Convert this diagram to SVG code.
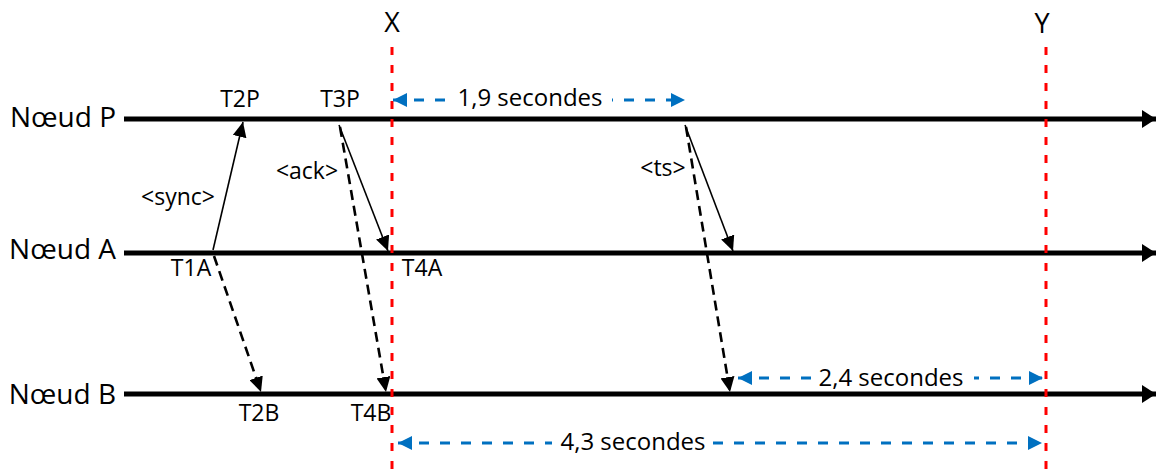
<svg xmlns="http://www.w3.org/2000/svg" width="1156" height="469" viewBox="0 0 1156 469">
  <style>
    text { font-family: "Open Sans", "Liberation Sans", sans-serif; fill: #000; }
    .node { font-size: 28px; }
    .tick { font-size: 27px; }
    .lbl { font-size: 23px; }
    .dur { font-size: 24px; }
    .axis { stroke: #000; stroke-width: 5; fill: none; }
    .msg { stroke: #000; stroke-width: 1.6; fill: none; }
    .msgd { stroke: #000; stroke-width: 2.6; stroke-dasharray: 10 6; fill: none; }
    .mark { stroke: #FF0000; stroke-width: 3; stroke-dasharray: 8 10; fill: none; }
    .span { stroke: #0070C0; stroke-width: 3; stroke-dasharray: 10 11; fill: none; }
  </style>
  <defs>
    <marker id="axisHead" markerUnits="userSpaceOnUse" markerWidth="16" markerHeight="20" refX="14" refY="10" orient="auto">
      <path d="M0,1 L14,10 L0,19 Z" fill="#000"/>
    </marker>
    <marker id="msgHead" markerUnits="userSpaceOnUse" markerWidth="16" markerHeight="14" refX="15" refY="7" orient="auto">
      <path d="M0,0 L15,7 L0,14 Z" fill="#000"/>
    </marker>
    <marker id="spanEnd" markerUnits="userSpaceOnUse" markerWidth="15" markerHeight="14" refX="14" refY="7" orient="auto">
      <path d="M0,0 L14,7 L0,14 Z" fill="#0070C0"/>
    </marker>
    <marker id="spanStart" markerUnits="userSpaceOnUse" markerWidth="15" markerHeight="14" refX="0" refY="7" orient="auto">
      <path d="M14,0 L0,7 L14,14 Z" fill="#0070C0"/>
    </marker>
  </defs>

  <!-- time axes of the three nodes -->
  <g id="node-p">
    <line class="axis" x1="124" y1="119" x2="1156" y2="119" marker-end="url(#axisHead)"/>
    <text class="node" x="116" y="127" text-anchor="end">Nœud P</text>
  </g>
  <g id="node-a">
    <line class="axis" x1="124" y1="253" x2="1156" y2="253" marker-end="url(#axisHead)"/>
    <text class="node" x="116" y="259" text-anchor="end">Nœud A</text>
  </g>
  <g id="node-b">
    <line class="axis" x1="124" y1="394" x2="1156" y2="394" marker-end="url(#axisHead)"/>
    <text class="node" x="116" y="404" text-anchor="end">Nœud B</text>
  </g>

  <!-- messages exchanged between nodes -->
  <g id="connectors">
    <line class="msg" x1="213" y1="250" x2="243" y2="122" marker-end="url(#msgHead)"/>
    <line class="msgd" x1="214" y1="256" x2="261" y2="392" marker-end="url(#msgHead)"/>
    <line class="msg" x1="339" y1="125" x2="388" y2="251" marker-end="url(#msgHead)"/>
    <line class="msgd" x1="340" y1="127" x2="386" y2="392" marker-end="url(#msgHead)"/>
    <line class="msg" x1="685" y1="125" x2="733" y2="251" marker-end="url(#msgHead)"/>
    <line class="msgd" x1="686" y1="127" x2="730" y2="392" marker-end="url(#msgHead)"/>
  </g>

  <!-- event labels -->
  <g id="labels">
    <text class="lbl" x="240" y="107" text-anchor="middle">T2P</text>
    <text class="lbl" x="340" y="107" text-anchor="middle">T3P</text>
    <text class="lbl" x="178" y="205" text-anchor="middle">&lt;sync&gt;</text>
    <text class="lbl" x="307" y="179" text-anchor="middle">&lt;ack&gt;</text>
    <text class="lbl" x="663" y="176" text-anchor="middle">&lt;ts&gt;</text>
    <text class="lbl" x="191" y="276" text-anchor="middle">T1A</text>
    <text class="lbl" x="422" y="276" text-anchor="middle">T4A</text>
    <text class="lbl" x="259" y="421" text-anchor="middle">T2B</text>
    <text class="lbl" x="371" y="421" text-anchor="middle">T4B</text>
  </g>

  <!-- reference instants X and Y -->
  <g id="marker-x">
    <line class="mark" x1="392" y1="47" x2="392" y2="469"/>
    <text class="tick" x="392" y="32" text-anchor="middle">X</text>
  </g>
  <g id="marker-y">
    <line class="mark" x1="1046" y1="47" x2="1046" y2="469"/>
    <text class="tick" x="1042" y="33" text-anchor="middle">Y</text>
  </g>

  <!-- measured durations -->
  <g id="span-19">
    <line class="span" x1="393" y1="100" x2="685" y2="100" marker-start="url(#spanStart)" marker-end="url(#spanEnd)"/>
    <rect x="452" y="84" width="160" height="28" fill="#fff"/>
    <text class="dur" x="530" y="106" text-anchor="middle">1,9 secondes</text>
  </g>
  <g id="span-24">
    <line class="span" x1="738" y1="378" x2="1043" y2="378" marker-start="url(#spanStart)" marker-end="url(#spanEnd)"/>
    <rect x="818" y="362" width="156" height="28" fill="#fff"/>
    <text class="dur" x="891" y="386" text-anchor="middle">2,4 secondes</text>
  </g>
  <g id="span-43">
    <line class="span" x1="398" y1="443" x2="1042" y2="443" marker-start="url(#spanStart)" marker-end="url(#spanEnd)"/>
    <rect x="552" y="427" width="155" height="28" fill="#fff"/>
    <text class="dur" x="633" y="450" text-anchor="middle">4,3 secondes</text>
  </g>
</svg>
